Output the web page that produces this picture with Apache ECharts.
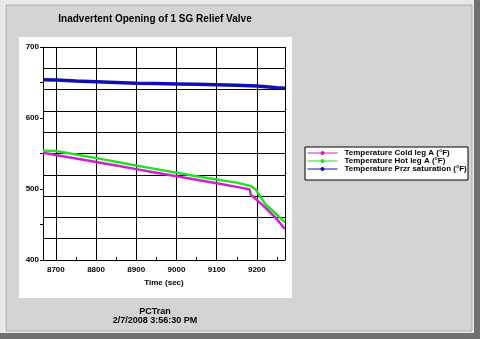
<!DOCTYPE html>
<html><head><meta charset="utf-8">
<script src="https://cdn.jsdelivr.net/npm/echarts@6/dist/echarts.min.js"></script>
<style>html,body{margin:0;padding:0;background:#d4d4d4}#c{width:480px;height:339px}</style>
</head><body><div id="c"></div>
<script>
const titleText = 'Inadvertent Opening of 1 SG Relief Valve';
const xTitle = 'Time (sec)';
const footer1 = 'PCTran';
const footer2 = '2/7/2008 3:56:30 PM';
const seriesNames = ['Temperature Cold leg A (°F)', 'Temperature Hot leg A (°F)', 'Temperature Przr saturation (°F)'];
const xTickValues = [8700, 8800, 8900, 9000, 9100, 9200];
const xMinorValues = [8750, 8850, 8950, 9050, 9150, 9250];

const coldTime = [8668, 8700, 8750, 8800, 8850, 8900, 8950, 9000, 9050, 9100, 9150, 9182, 9185, 9198, 9223, 9248, 9268, 9270];
const coldTemp = [551, 548, 543, 538, 533, 528, 523, 518, 513, 508, 503, 499.5, 492, 485.5, 472.8, 458.7, 444.7, 444];
const hotTime = [8668, 8700, 8750, 8800, 8850, 8900, 8950, 9000, 9050, 9100, 9150, 9186, 9198, 9211, 9223, 9248, 9268, 9270];
const hotTemp = [554, 553.5, 548.5, 543.5, 538.5, 533, 528, 523, 518, 513.5, 509, 504, 498.6, 486.9, 477.5, 464.8, 454, 453];
const satTime = [8668, 8700, 8750, 8800, 8850, 8900, 8950, 9000, 9050, 9100, 9150, 9200, 9230, 9250, 9270];
const satTemp = [654, 653.5, 652, 651, 650, 649, 648.5, 648, 647.5, 647, 646, 645, 643.5, 642.5, 642];

const zip = (a, b) => a.map((t, i) => [t, b[i]]);
const colors = ['#d21ed2', '#22e022', '#1010b0'];

const chart = echarts.init(document.getElementById('c'));
const fontFam = 'Liberation Sans, Arial, sans-serif';
chart.setOption({
  animation: false,
  backgroundColor: '#d4d4d4',
  graphic: [
    {type:'rect', shape:{x:0,y:0,width:480,height:339}, style:{fill:'#e8e8e8'}, z:-10},
    {type:'rect', shape:{x:474,y:0,width:6,height:339}, style:{fill:'#707070'}, z:-9},
    {type:'rect', shape:{x:0,y:333,width:480,height:6}, style:{fill:'#707070'}, z:-9},
    {type:'rect', shape:{x:4,y:4,width:469,height:328}, style:{fill:'#f4f4f4'}, z:-8},
    {type:'rect', shape:{x:6,y:5,width:466,height:326}, style:{fill:'#d4d4d4', stroke:'#a8a8a8', lineWidth:1}, z:-7},
    {type:'rect', shape:{x:19,y:37,width:273,height:261}, style:{fill:'#ffffff'}, z:-6},
    {type:'text', style:{x:155, y:14, text:titleText, fontSize:10, fontWeight:'bold', fontFamily:fontFam, fill:'#000', textAlign:'center', textVerticalAlign:'top'}},
    {type:'text', style:{x:155, y:307, text:footer1, fontSize:9, fontWeight:'bold', fontFamily:fontFam, fill:'#000', textAlign:'center', textVerticalAlign:'top'}},
    {type:'text', style:{x:155, y:316, text:footer2, fontSize:9, fontWeight:'bold', fontFamily:fontFam, fill:'#000', textAlign:'center', textVerticalAlign:'top'}},
    {type:'rect', shape:{x:305,y:147,width:163,height:33}, style:{fill:'#fff', stroke:'#000', lineWidth:1}, z:5}
  ],
  legend: {
    orient: 'vertical', left: 307, top: 149, itemGap: 0, itemWidth: 30, itemHeight: 5,
    padding: 0, z: 10,
    lineStyle: {width: 1},
    textStyle: {fontSize: 8, fontWeight: 'bold', fontFamily: fontFam, color: '#000', padding:[0,0,0,2]},
    data: seriesNames
  },
  grid: {left: 43, top: 47, right: 195, bottom: 79, containLabel: false},
  xAxis: [{
    type: 'value', min: 8668, max: 9270,
    name: xTitle, nameLocation: 'middle', nameGap: 19,
    nameTextStyle: {fontSize: 8, fontWeight: 'bold', fontFamily: fontFam, color: '#000'},
    axisLine: {lineStyle: {color: '#000', width: 1}},
    axisTick: {show: false},
    axisLabel: {customValues: xTickValues, formatter: v => String(v), fontSize: 8, fontWeight:'bold', fontFamily: fontFam, color: '#000', margin: 6},
    splitLine: {show: false}
  }, {
    type: 'value', min: 8668, max: 9270, position: 'bottom',
    axisLine: {show: false},
    axisLabel: {show: false},
    axisTick: {show: true, customValues: xTickValues, inside: true, length: 0},
    splitLine: {show: true, lineStyle: {color: '#000', width: 1}}
  }, {
    type: 'value', min: 8668, max: 9270, position: 'bottom',
    axisLine: {show: false},
    axisLabel: {show: false},
    axisTick: {show: true, customValues: xMinorValues, inside: true, length: 3, lineStyle:{color:'#000'}},
    splitLine: {show: false}
  }],
  yAxis: [{
    type: 'value', min: 400, max: 700, interval: 100,
    axisLine: {show: true, lineStyle: {color: '#000'}},
    axisTick: {show: true, length: 3, lineStyle:{color:'#000'}},
    minorTick: {show: true, splitNumber: 2, length: 3, lineStyle:{color:'#000'}},
    axisLabel: {fontSize: 8, fontWeight:'bold', fontFamily: fontFam, color: '#000', margin: 4},
    splitLine: {show: false}
  }, {
    type: 'value', min: 400, max: 700, interval: 30, position: 'left',
    axisLine: {show: false}, axisTick: {show: false}, axisLabel: {show: false},
    splitLine: {show: true, lineStyle: {color: '#000', width: 1}}
  }],
  series: [
    {name: seriesNames[0], type: 'line', data: zip(coldTime, coldTemp), showSymbol: false, symbol:'circle', symbolSize: 3, lineStyle: {width: 2.5, color: colors[0]}, itemStyle: {color: colors[0]}, z: 3},
    {name: seriesNames[1], type: 'line', data: zip(hotTime, hotTemp), showSymbol: false, symbol:'circle', symbolSize: 3, lineStyle: {width: 2.5, color: colors[1]}, itemStyle: {color: colors[1]}, z: 4},
    {name: seriesNames[2], type: 'line', data: zip(satTime, satTemp), showSymbol: false, symbol:'circle', symbolSize: 3, lineStyle: {width: 3.5, color: colors[2]}, itemStyle: {color: colors[2]}, z: 4},
    {type: 'line', data: [], markLine: {silent: true, symbol: 'none', label: {show: false}, lineStyle: {color: '#000', type: 'solid', width: 1}, data: [{xAxis: 9270}]}}
  ]
});
</script></body></html>
